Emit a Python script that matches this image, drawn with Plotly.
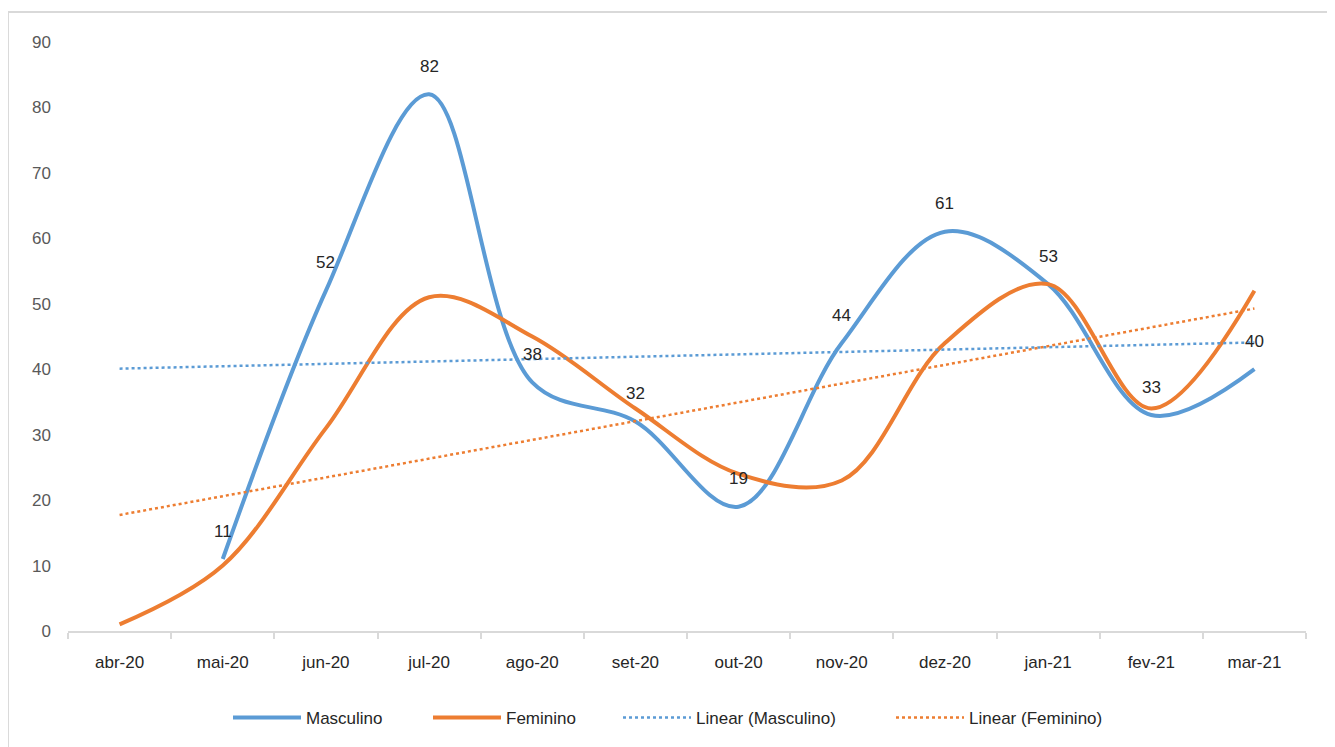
import numpy as np
import plotly.graph_objects as go

meses = ["abr-20", "mai-20", "jun-20", "jul-20", "ago-20", "set-20",
         "out-20", "nov-20", "dez-20", "jan-21", "fev-21", "mar-21"]
masculino = [None, 11, 52, 82, 38, 32, 19, 44, 61, 53, 33, 40]
feminino = [1, 10, 31, 51, 45, 34, 24, 23, 44, 53, 34, 52]

AZUL = "#5B9BD5"
LARANJA = "#ED7D31"
FONTE = "Liberation Sans Narrow, Arial Narrow, Liberation Sans, Arial, sans-serif"
TAM = 17

# área do gráfico em px (a página tem 8px de margem no body)
L, T, W, H = 60, 34, 1238, 589


def tendencia(vals):
    # reta de mínimos quadrados, como a "Linear" do Excel
    x = np.array([i for i, v in enumerate(vals) if v is not None], dtype=float)
    y = np.array([v for v in vals if v is not None], dtype=float)
    a, b = np.polyfit(x + 1, y, 1)
    xs = np.arange(len(vals)) + 1
    return list(a * xs + b)


fig = go.Figure()

fig.add_trace(go.Scatter(
    x=meses, y=masculino, name="Masculino", mode="lines", legend="legend",
    line=dict(color=AZUL, width=4, shape="spline", smoothing=1),
))
fig.add_trace(go.Scatter(
    x=meses, y=feminino, name="Feminino", mode="lines", legend="legend2",
    line=dict(color=LARANJA, width=4, shape="spline", smoothing=1),
))
fig.add_trace(go.Scatter(
    x=meses, y=tendencia(masculino), name="Linear (Masculino)", mode="lines",
    legend="legend3", line=dict(color=AZUL, width=2.5, dash="dot"),
))
fig.add_trace(go.Scatter(
    x=meses, y=tendencia(feminino), name="Linear (Feminino)", mode="lines",
    legend="legend4", line=dict(color=LARANJA, width=2.5, dash="dot"),
))

# rótulos de dados só na série Masculino
for m, v in zip(meses, masculino):
    if v is None:
        continue
    fig.add_annotation(x=m, y=v, text=str(v), showarrow=False, yshift=28,
                       font=dict(family=FONTE, size=TAM, color="#262626"))

# moldura cinza do gráfico
fig.add_shape(type="rect", xref="paper", yref="paper",
              x0=-0.0485, x1=1.0194, y0=-0.21, y1=1.051,
              line=dict(color="#D9D9D9", width=2), layer="below")

fig.update_xaxes(
    type="category", range=[-0.5, 11.5], automargin=False,
    showgrid=False, showline=True, linecolor="#D9D9D9", linewidth=2,
    ticks="outside", tickson="boundaries", ticklen=6, tickcolor="#D9D9D9", tickwidth=2,
    tickfont=dict(family=FONTE, size=TAM, color="#262626"), ticklabelstandoff=15,
)
fig.update_yaxes(
    range=[0, 90], dtick=10, automargin=False,
    showgrid=False, zeroline=False, showline=False,
    tickfont=dict(family=FONTE, size=TAM, color="#595959"), ticklabelstandoff=16,
)

# uma legenda por série, para reproduzir o espaçamento do Excel
leg_x = [232, 432, 622, 895]
leg = {}
for i, px in enumerate(leg_x):
    nome = "legend" if i == 0 else f"legend{i + 1}"
    leg[nome] = dict(
        orientation="h", x=(px - 8 - L - 4) / W, xanchor="left",
        y=(631 - 718) / H, yanchor="middle", itemwidth=68,
        bgcolor="rgba(0,0,0,0)",
        font=dict(family=FONTE, size=TAM, color="#262626"),
    )

fig.update_layout(
    width=1327, height=739,
    plot_bgcolor="white", paper_bgcolor="white",
    margin=dict(l=L, r=1327 - L - W, t=T, b=739 - T - H, autoexpand=False),
    font=dict(family=FONTE, size=TAM, color="#262626"),
    showlegend=True,
    **leg,
)

fig.write_html("out.html")
